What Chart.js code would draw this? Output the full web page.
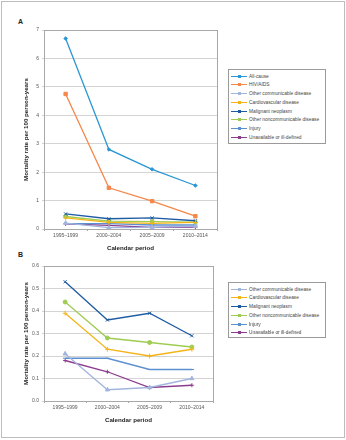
<!DOCTYPE html>
<html>
<head>
<meta charset="utf-8">
<script src="https://cdn.jsdelivr.net/npm/chart.js@4"></script>
<style>
  body { margin: 0; background: #fff; font-family: "Liberation Sans", Arial, sans-serif; }
  #frame { position: absolute; left: 1px; top: 1px; width: 342px; height: 435px; border: 1px solid #bdbdbd; }
  .panel { position: absolute; font-weight: bold; font-size: 7px; color: #222; }
  .wrap { position: absolute; }
  .legend { position: absolute; border: 1px solid #9a9a9a; background: #fff; box-sizing: border-box; }
  .item { position: absolute; left: 0; height: 9px; width: 95px; font-size: 4.8px; line-height: 9px; color: #444; white-space: nowrap; }
  .item .ln { position: absolute; left: 2px; top: 4px; width: 16px; height: 1px; }
  .item .pt { position: absolute; left: 9px; top: 3px; width: 3px; height: 3px; }
  .item .tx { position: absolute; left: 20px; }
</style>
</head>
<body>
<div id="frame"></div>
<div class="panel" style="left:18px; top:18px;">A</div>
<div class="panel" style="left:18px; top:251px;">B</div>
<div class="wrap" style="left:0; top:0; width:222px; height:256px;"><canvas id="chartA"></canvas></div>
<div class="wrap" style="left:0; top:240px; width:218px; height:188px;"><canvas id="chartB"></canvas></div>
<div class="legend" id="legendA" style="left:228px; top:69px; width:98px; height:75px;"></div>
<div class="legend" id="legendB" style="left:228px; top:282px; width:98px; height:56px;"></div>
<script>
// Periods
const periods = ['1995–1999', '2000–2004', '2005–2009', '2010–2014'];

// Mortality rate per 100 person-years
const allCause = [6.7, 2.8, 2.1, 1.53];
const hivAids = [4.75, 1.45, 0.98, 0.45];
const otherCommunicable = [0.21, 0.05, 0.06, 0.10];
const cardiovascular = [0.39, 0.23, 0.20, 0.23];
const malignantNeoplasm = [0.53, 0.36, 0.39, 0.29];
const otherNoncommunicable = [0.44, 0.28, 0.26, 0.24];
const injury = [0.19, 0.19, 0.14, 0.14];
const unavailable = [0.18, 0.13, 0.06, 0.07];

const ticksA = [0, 1, 2, 3, 4, 5, 6, 7];
const ticksB = [0, 0.1, 0.2, 0.3, 0.4, 0.5, 0.6];

const series = [
    { label: 'All-cause', data: allCause, color: '#2b97d4', style: 'rectRot', r: 1.8 },
    { label: 'HIV/AIDS', data: hivAids, color: '#f5874a', style: 'rect', r: 2.4 },
    { label: 'Other communicable disease', data: otherCommunicable, color: '#a2b5df', style: 'triangle', r: 2.4 },
    { label: 'Cardiovascular disease', data: cardiovascular, color: '#f4b418', style: 'cross', r: 2.4 },
    { label: 'Malignant neoplasm', data: malignantNeoplasm, color: '#1e5ba3', style: 'crossRot', r: 2.2 },
    { label: 'Other noncommunicable disease', data: otherNoncommunicable, color: '#9fcc52', style: 'circle', r: 2 },
    { label: 'Injury', data: injury, color: '#5b90d0', style: 'line', r: 2.2 },
    { label: 'Unavailable or ill-defined', data: unavailable, color: '#8c3c8e', style: 'cross', r: 2 }
];

const plotBox = {
    id: 'plotBox',
    beforeDatasetsDraw(chart) {
        const a = chart.chartArea;
        const ctx = chart.ctx;
        ctx.save();
        ctx.strokeStyle = '#a8a8a8';
        ctx.lineWidth = 1;
        ctx.strokeRect(Math.round(a.left) + 0.5, Math.round(a.top) + 0.5, Math.round(a.right - a.left), Math.round(a.bottom - a.top));
        ctx.restore();
    }
};

function makeChart(id, list, ticks, pad, fmt) {
    return new Chart(document.getElementById(id), {
        type: 'line',
        data: {
            labels: periods,
            datasets: list.map(s => ({
                label: s.label,
                data: s.data,
                borderColor: s.color,
                backgroundColor: s.color,
                borderWidth: 1.3,
                pointStyle: s.style,
                pointRadius: s.r,
                pointBorderWidth: 1,
                tension: 0
            }))
        },
        options: {
            responsive: true,
            maintainAspectRatio: false,
            animation: false,
            layout: { padding: { top: pad, right: 2, left: 0, bottom: 0 } },
            plugins: { legend: { display: false }, tooltip: { enabled: false } },
            scales: {
                x: {
                    offset: true,
                    grid: { offset: true, drawOnChartArea: false, tickLength: 2, color: '#a8a8a8' },
                    border: { color: '#a8a8a8' },
                    ticks: { padding: 2, color: '#555', font: { size: 5, family: 'Liberation Sans' }, maxRotation: 0 },
                    title: { display: true, text: 'Calendar period', color: '#222', padding: { top: 0, bottom: 4.4 },
                             font: { size: 6.2, weight: 'bold', family: 'Liberation Sans' } },
                    afterFit: s => { s.height = 27; }
                },
                y: {
                    min: ticks[0],
                    max: ticks[ticks.length - 1],
                    afterBuildTicks: s => { s.ticks = ticks.map(v => ({ value: v })); },
                    grid: { color: '#d4d4d4', tickLength: 2 },
                    border: { color: '#a8a8a8' },
                    ticks: { padding: 3, color: '#555', font: { size: 5, family: 'Liberation Sans' }, callback: fmt },
                    title: { display: true, text: 'Mortality rate per 100 person-years', color: '#222', padding: { top: 22.4, bottom: 0 },
                             font: { size: 6.2, weight: 'bold', family: 'Liberation Sans' } },
                    afterFit: s => { s.width = 44; }
                }
            }
        },
        plugins: [plotBox]
    });
}

makeChart('chartA', series, ticksA, 30, v => String(v));
const seriesB = series.slice(2);
makeChart('chartB', seriesB, ticksB, 26, v => v.toFixed(1));

function makeLegend(id, list) {
    const box = document.getElementById(id);
    list.forEach((s, i) => {
        const row = document.createElement('div');
        row.className = 'item';
        row.style.top = Math.round(1.5 + i * 8.75) + 'px';
        row.innerHTML = '<span class="ln" style="background:' + s.color + '"></span>' +
            '<span class="pt" style="background:' + s.color + '"></span>' +
            '<span class="tx">' + s.label + '</span>';
        box.appendChild(row);
    });
}
makeLegend('legendA', series);
makeLegend('legendB', seriesB);
</script>
</body>
</html>
